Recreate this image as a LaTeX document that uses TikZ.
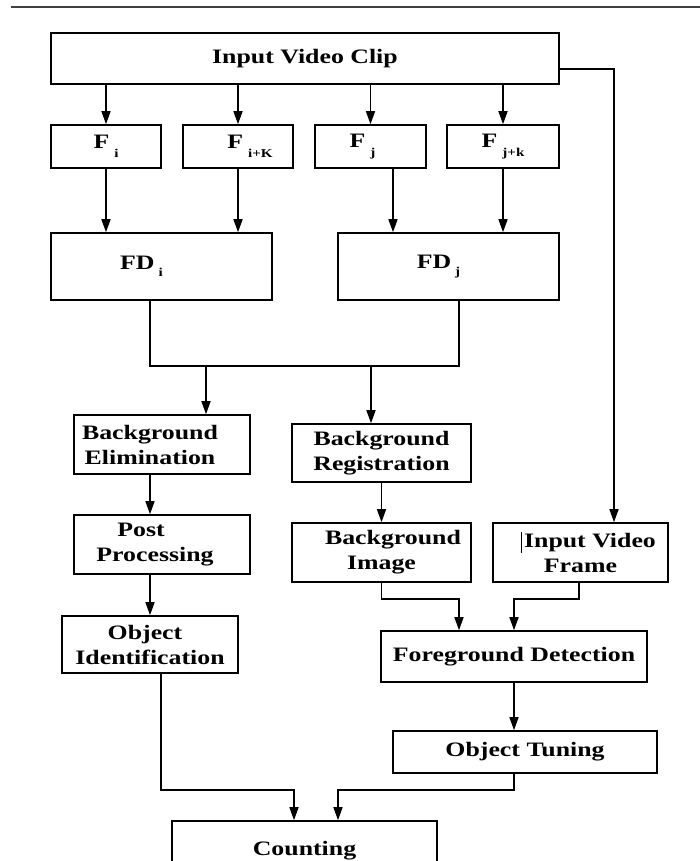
\documentclass[tikz,border=0pt]{standalone}
\usepackage{fontspec}
\setmainfont{Liberation Serif}[FakeStretch=1.26]
\usetikzlibrary{arrows.meta}
\newcommand{\subsz}{\fontsize{12}{12}\selectfont}
\begin{document}
\begin{tikzpicture}[x=1pt,y=-1pt,
  box/.style={draw, line width=1.6pt, inner sep=0pt, align=center,
    font=\fontsize{20.5}{25}\selectfont\bfseries},
  line/.style={line width=1.5pt},
  arr/.style={line width=1.5pt, -{Triangle[length=13pt,width=9pt]}}]
\useasboundingbox (0,0) rectangle (700,861);
\clip (0,0) rectangle (700,861);
\fill[white] (0,0) rectangle (700,861);
\draw[line width=2.5pt, black!75] (11,7) -- (700,7);

\node[box, minimum width=508pt, minimum height=51pt] (ivc) at (305,58.5) {Input Video Clip};
\node[box, minimum width=110pt, minimum height=43pt] (fi) at (106,146.5) {F\hspace{5pt}\raisebox{-9pt}{\subsz i}};
\node[box, minimum width=110pt, minimum height=43pt] (fik) at (238,146.5) {\hspace*{24pt}F\hspace{5pt}\raisebox{-9pt}{\subsz i+K}};
\node[box, minimum width=111pt, minimum height=43pt] (fj) at (370.5,146.5) {F\hspace{5pt}\raisebox{-9pt}{\subsz j}\hspace*{16pt}};
\node[box, minimum width=112pt, minimum height=43pt] (fjk) at (503,146.5) {F\hspace{5pt}\raisebox{-9pt}{\subsz j+k}};
\node[box, minimum width=221pt, minimum height=67pt] (fdi) at (161.5,266.5) {FD\hspace{4pt}\raisebox{-7pt}{\subsz i}\hspace*{40pt}};
\node[box, minimum width=221pt, minimum height=67pt] (fdj) at (448.5,266.5) {FD\hspace{4pt}\raisebox{-7pt}{\subsz j}\hspace*{20pt}};
\node[box, minimum width=176pt, minimum height=59pt] (be) at (162,444.5) {Background\hspace*{24pt}\\Elimination\hspace*{24pt}};
\node[box, minimum width=179pt, minimum height=58pt] (br) at (381.5,453) {Background\\Registration};
\node[box, minimum width=176pt, minimum height=59pt] (pp) at (162,544.5) {Post\hspace*{42pt}\\Processing\hspace*{14pt}};
\node[box, minimum width=179pt, minimum height=59pt] (bi) at (381.5,552.5) {\hspace*{23pt}Background\\Image};
\node[box, minimum width=175pt, minimum height=59pt] (ivf) at (580.5,552.5) {\hspace*{19pt}\llap{\rule[-5pt]{1.2pt}{21pt}\hspace{2pt}}Input Video\\Frame};
\node[box, minimum width=176pt, minimum height=57pt] (oi) at (150,644.5) {Object\hspace*{10pt}\\Identification};
\node[box, minimum width=266pt, minimum height=51pt] (fgd) at (514,656.5) {Foreground Detection};
\node[box, minimum width=264pt, minimum height=42pt] (ot) at (525,752) {\raisebox{-5pt}{Object Tuning}};
\node[box, minimum width=265pt, minimum height=59pt] (cnt) at (304.5,850.5) {Counting};

% input clip to frames
\foreach \n in {fi,fik,fj,fjk}
  \draw[arr] (\n.north |- ivc.south) -- (\n.north);
% frames to frame differences
\draw[arr] (fi.south) -- (fi.south |- fdi.north);
\draw[arr] (fik.south) -- (fik.south |- fdi.north);
\draw[arr] ([xshift=22.5pt]fj.south) -- ([xshift=22.5pt]fj.south |- fdj.north);
\draw[arr] (fjk.south) -- (fjk.south |- fdj.north);
% merge
\coordinate (mL) at (150,366);
\coordinate (mR) at (459,366);
\coordinate (m1) at (206,366);
\coordinate (m2) at (371,366);
\draw[line] (fdi.south -| mL) -- (mL) -- (mR) -- (fdj.south -| mR);
\draw[arr] (m1) -- (m1 |- be.north);
\draw[arr] (m2) -- (m2 |- br.north);
% left column
\draw[arr] ([xshift=-12pt]be.south) -- ([xshift=-12pt]be.south |- pp.north);
\draw[arr] ([xshift=-12pt]pp.south) -- ([xshift=-12pt]pp.south |- oi.north);
% middle
\draw[arr] (br.south) -- (br.south |- bi.north);
% input clip to input frame
\coordinate (c1) at (614,69);
\draw[arr] (ivc.east |- c1) -- (c1) -- (c1 |- ivf.north);
% to foreground detection
\coordinate (c2) at (459,599);
\coordinate (c3) at (514,599);
\draw[arr] (bi.south) |- (c2) -- (c2 |- fgd.north);
\draw[arr] ([xshift=-1.5pt]ivf.south) |- (c3) -- (c3 |- fgd.north);
\draw[arr] (fgd.south) -- (fgd.south |- ot.north);
% to counting
\coordinate (c4) at (294,790);
\coordinate (c5) at (338,790);
\draw[arr] ([xshift=11pt]oi.south) |- (c4) -- (c4 |- cnt.north);
\draw[arr] ([xshift=-11pt]ot.south) |- (c5) -- (c5 |- cnt.north);
\end{tikzpicture}
\end{document}
